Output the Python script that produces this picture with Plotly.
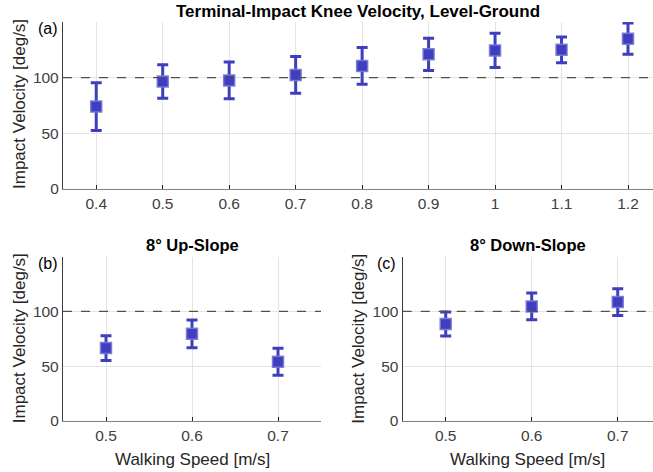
import plotly.graph_objects as go

# ---- data ----
speeds_level = [0.4, 0.5, 0.6, 0.7, 0.8, 0.9, 1.0, 1.1, 1.2]
mean_level = [74, 96.5, 97.5, 102.5, 110.5, 121, 124.5, 125, 135]
err_level = [21.5, 15, 16.5, 16.5, 16.5, 14.5, 15.3, 11.5, 14]

speeds_slope = [0.5, 0.6, 0.7]
mean_up = [66.5, 79.5, 54]
err_up = [11.3, 12.7, 12.3]
mean_down = [88.5, 104.5, 108.5]
err_down = [11, 12.2, 12.2]

ref_velocity = 100
level_ticks = [0.4, 0.5, 0.6, 0.7, 0.8, 0.9, 1.0, 1.1, 1.2]
level_ticklabels = ["0.4", "0.5", "0.6", "0.7", "0.8", "0.9", "1", "1.1", "1.2"]
slope_ticks = [0.5, 0.6, 0.7]
y_ticks = [0, 50, 100]

BLUE = "rgb(62,62,190)"
FONT = "Liberation Sans, Arial, sans-serif"
W, H = 653, 472

fig = go.Figure()

def add_series(x, y, e, xa, ya):
    fig.add_trace(go.Scatter(
        x=x, y=y, xaxis=xa, yaxis=ya, mode="markers",
        marker=dict(symbol="square", size=11, color=BLUE,
                    line=dict(color="rgba(120,120,215,0.9)", width=1.5)),
        error_y=dict(type="data", array=e, color=BLUE, thickness=3, width=5.5),
        showlegend=False, hoverinfo="x+y"))

add_series(speeds_level, mean_level, err_level, "x", "y")
add_series(speeds_slope, mean_up, err_up, "x2", "y2")
add_series(speeds_slope, mean_down, err_down, "x3", "y3")

top_dom = [1 - 189 / H, 1 - 22 / H]
bot_dom = [1 - 421 / H, 1 - 256.5 / H]

axis_common = dict(showgrid=True, gridcolor="rgb(228,228,228)", gridwidth=1,
                   zeroline=False, showline=True, linewidth=1.3, automargin=False,
                   ticks="inside", ticklen=4, tickcolor="rgb(38,38,38)",
                   tickfont=dict(family=FONT, size=15.5, color="rgb(64,64,64)"))

xa_common = dict(axis_common, linecolor="rgb(128,128,128)")
ya_common = dict(axis_common, linecolor="rgb(60,60,60)", range=[0, 150],
                 tickvals=y_ticks, ticks="")

fig.update_layout(
    width=W, height=H, margin=dict(l=0, r=0, t=0, b=0),
    plot_bgcolor="white", paper_bgcolor="white",
    font=dict(family=FONT),
    xaxis=dict(xa_common, domain=[63 / W, 1], range=[0.35, 1.2376],
               tickvals=level_ticks, ticktext=level_ticklabels, anchor="y"),
    yaxis=dict(ya_common, domain=top_dom, anchor="x"),
    xaxis2=dict(xa_common, domain=[63 / W, 321 / W], range=[0.45, 0.75],
                tickvals=slope_ticks, anchor="y2"),
    yaxis2=dict(ya_common, domain=bot_dom, anchor="x2"),
    xaxis3=dict(xa_common, domain=[402.7 / W, 1], range=[0.45, 0.741],
                tickvals=slope_ticks, anchor="y3"),
    yaxis3=dict(ya_common, domain=bot_dom, anchor="x3"),
)

# dashed reference lines
for xa, ya in [("x", "y"), ("x2", "y2"), ("x3", "y3")]:
    fig.add_shape(type="line", xref=f"{xa} domain", yref=ya, x0=0, x1=1,
                  y0=ref_velocity, y1=ref_velocity,
                  line=dict(color="rgb(80,80,80)", width=1.3, dash="dash"))

def ann(text, x, y, size, color="black", angle=0):
    fig.add_annotation(text=text, xref="paper", yref="paper", x=x / W, y=1 - y / H,
                       showarrow=False, xanchor="center", yanchor="middle",
                       textangle=angle,
                       font=dict(family=FONT, size=size, color=color))

# titles
ann("<b>Terminal-Impact Knee Velocity, Level-Ground</b>", (63 + 653) / 2, 11, 17)
ann("<b>8° Up-Slope</b>", (63 + 321) / 2, 245, 16.5)
ann("<b>8° Down-Slope</b>", (402.7 + 653) / 2, 245, 16.5)

# panel labels
ann("(a)", 47.5, 29, 16)
ann("(b)", 47.5, 263, 16)
ann("(c)", 386.5, 263, 16)

# axis titles
ann("Impact Velocity [deg/s]", 19.5, (22 + 189) / 2 - 1, 17, "rgb(38,38,38)", -90)
ann("Impact Velocity [deg/s]", 19.5, (256.5 + 421) / 2, 17, "rgb(38,38,38)", -90)
ann("Impact Velocity [deg/s]", 359, (256.5 + 421) / 2, 17, "rgb(38,38,38)", -90)
ann("Walking Speed [m/s]", (63 + 321) / 2, 459, 17, "rgb(38,38,38)")
ann("Walking Speed [m/s]", (402.7 + 653) / 2, 459, 17, "rgb(38,38,38)")

fig.write_html("out.html", config={"displayModeBar": False},
               post_script="document.body.style.margin='0';document.body.style.overflow='hidden';")
